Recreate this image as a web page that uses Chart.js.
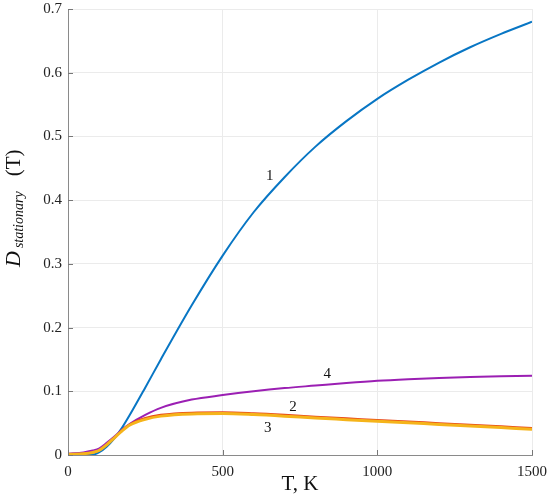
<!DOCTYPE html>
<html>
<head>
<meta charset="utf-8">
<script src="https://cdn.jsdelivr.net/npm/chart.js@4"></script>
<style>
  html, body { margin: 0; padding: 0; background: #fff; }
  #wrap { width: 550px; height: 499px; position: relative; }
</style>
</head>
<body>
<div id="wrap"><canvas id="graphCanvas"></canvas></div>
<script>
const ctx = document.getElementById('graphCanvas').getContext('2d');

// Temperature grid (K)
const temps = [0, 50, 80, 100, 125, 150, 175, 200, 250, 300, 400, 500, 600, 700, 800, 900, 1000, 1100, 1200, 1300, 1400, 1500];

// Curve 1 (blue)
const curve1 = [0, 0, 0.0005, 0.004, 0.013, 0.026, 0.043, 0.063, 0.106, 0.150, 0.235, 0.313, 0.381, 0.436, 0.484, 0.524, 0.559, 0.589, 0.616, 0.640, 0.661, 0.680];
// Curve 2 (red-orange)
const curve2 = [0.001, 0.002, 0.004, 0.007, 0.016, 0.027, 0.039, 0.048, 0.058, 0.063, 0.0665, 0.067, 0.0655, 0.063, 0.060, 0.0575, 0.055, 0.0525, 0.050, 0.0475, 0.045, 0.0425];
// Curve 3 (yellow-orange)
const curve3 = [0.001, 0.002, 0.004, 0.007, 0.016, 0.027, 0.038, 0.047, 0.056, 0.061, 0.0645, 0.065, 0.0635, 0.061, 0.058, 0.0555, 0.053, 0.0505, 0.048, 0.0455, 0.043, 0.0405];
// Curve 4 (purple)
const curve4 = [0.002, 0.004, 0.007, 0.010, 0.019, 0.029, 0.040, 0.049, 0.063, 0.074, 0.087, 0.094, 0.100, 0.105, 0.109, 0.113, 0.1165, 0.119, 0.121, 0.1225, 0.1235, 0.1245];

// Curve number labels: [text, T, value]
const curveLabels = [
    ['1', 652, 0.438],
    ['2', 727, 0.076],
    ['3', 646, 0.043],
    ['4', 838, 0.127]
];

const xTicks = [0, 500, 1000, 1500];
const yTicks = [0, 0.1, 0.2, 0.3, 0.4, 0.5, 0.6, 0.7];

const serif = "'Liberation Serif', 'DejaVu Serif', serif";

function toPoints(values) {
    return temps.map((t, i) => ({ x: t, y: values[i] }));
}

function makeSet(label, values, color, width) {
    return {
        label,
        data: toPoints(values),
        borderColor: color,
        backgroundColor: color,
        borderWidth: width,
        pointRadius: 0,
        cubicInterpolationMode: 'monotone',
        fill: false
    };
}

// Short ticks pointing into the plot, plus curve numbers and the y title
const extras = {
    id: 'extras',
    afterDatasetsDraw(chart) {
        const c = chart.ctx;
        const xs = chart.scales.x, ys = chart.scales.y;
        const area = chart.chartArea;
        c.save();
        c.strokeStyle = '#777';
        c.lineWidth = 1;
        xTicks.forEach(v => {
            const px = Math.round(xs.getPixelForValue(v)) + 0.5;
            c.beginPath();
            c.moveTo(px, area.bottom);
            c.lineTo(px, area.bottom - 5);
            c.stroke();
        });
        yTicks.forEach(v => {
            const py = Math.round(ys.getPixelForValue(v)) + 0.5;
            c.beginPath();
            c.moveTo(area.left, py);
            c.lineTo(area.left + 5, py);
            c.stroke();
        });

        c.fillStyle = '#111';
        c.font = '15px ' + serif;
        c.textAlign = 'center';
        c.textBaseline = 'middle';
        curveLabels.forEach(l => {
            c.fillText(l[0], xs.getPixelForValue(l[1]), ys.getPixelForValue(l[2]));
        });

        // y title: D_stationary (T), rotated
        c.translate(20, 267);
        c.rotate(-Math.PI / 2);
        c.textAlign = 'left';
        c.textBaseline = 'alphabetic';
        c.font = 'italic 22px ' + serif;
        c.fillText('D', 0, 0);
        let w = c.measureText('D').width + 3;
        c.font = 'italic 14px ' + serif;
        c.fillText('stationary', w, 3);
        w += c.measureText('stationary').width + 15;
        c.font = '21px ' + serif;
        c.fillText('(T)', w, 0);
        c.restore();
    }
};

const chart = new Chart(ctx, {
    type: 'line',
    data: {
        datasets: [
            makeSet('3', curve3, '#f5b41a', 3),
            makeSet('2', curve2, '#e8461a', 2),
            makeSet('4', curve4, '#9b1fb3', 2),
            makeSet('1', curve1, '#0876c4', 2)
        ]
    },
    options: {
        responsive: true,
        maintainAspectRatio: false,
        animation: false,
        layout: { padding: { top: 9, right: 18, left: 0, bottom: 0 } },
        plugins: {
            legend: { display: false },
            tooltip: { enabled: false }
        },
        scales: {
            x: {
                type: 'linear',
                min: 0,
                max: 1500,
                afterBuildTicks: axis => { axis.ticks = xTicks.map(v => ({ value: v })); },
                afterFit: axis => { axis.height = 44; axis.paddingLeft = 0; axis.paddingRight = 0; },
                grid: { color: '#ebebeb', drawTicks: false },
                border: { color: '#8a8a8a' },
                ticks: { color: '#222', padding: 8, font: { family: serif, size: 15 },
                    callback: v => String(v) },
                title: { display: true, text: 'T, K', color: '#111', padding: { top: 0, bottom: 2 }, font: { family: serif, size: 21 } }
            },
            y: {
                min: 0,
                max: 0.7,
                afterBuildTicks: axis => { axis.ticks = yTicks.map(v => ({ value: v })); },
                afterFit: axis => { axis.width = 68; axis.paddingTop = 0; axis.paddingBottom = 0; },
                grid: { color: '#ebebeb', drawTicks: false },
                border: { color: '#8a8a8a' },
                ticks: { color: '#222', padding: 6, font: { family: serif, size: 15 },
                    callback: v => String(Math.round(v * 10) / 10) }
            }
        }
    },
    plugins: [extras]
});
</script>
</body>
</html>
